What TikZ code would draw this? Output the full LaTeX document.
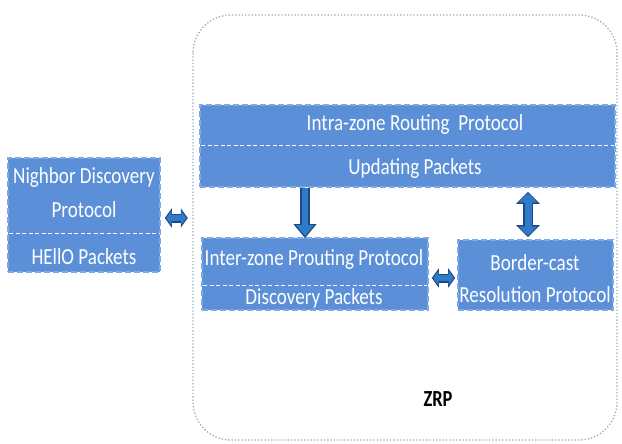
\documentclass[tikz,border=0pt]{standalone}
\usepackage{fontspec}
\setmainfont{Carlito}
\usepackage{graphicx}
\usetikzlibrary{arrows.meta,calc}
\definecolor{boxblue}{HTML}{5B8FD7}
\definecolor{boxedge}{HTML}{7FA9E2}
\definecolor{arrblue}{HTML}{2F7BC8}
\definecolor{arredge}{HTML}{1D4A86}
\definecolor{zonegray}{HTML}{8FAFC0}
\newcommand{\cond}[1]{\scalebox{0.83}[1]{#1}}
\tikzset{
  pbox/.style={rectangle, fill=boxblue, draw=boxedge, dashed, dash pattern=on 6pt off 3pt, line width=1.6pt, inner sep=0pt},
  sepline/.style={draw=white, dashed, dash pattern=on 4pt off 2.5pt, line width=0.9pt},
  ptext/.style={text=white, font=\fontsize{23}{26}\selectfont, inner sep=0pt},
  arrback/.style={draw=arredge, line width=9.5pt},
  arrfront/.style={draw=arrblue, line width=6.5pt},
}
\begin{document}
\begin{tikzpicture}[x=1pt,y=-1pt]
\useasboundingbox (0,0) rectangle (622,444);
% outer zone
\draw[zonegray, dotted, line width=1.3pt, rounded corners=38pt] (193,15) rectangle (617,440);
\node[font=\bfseries\fontsize{23}{26}\selectfont, inner sep=0pt] (zrp) at (438,399) {\scalebox{0.8}[1]{ZRP}};
% boxes
\node[pbox, minimum width=152pt, minimum height=114pt] (nd) at (84,215) {};
\node[pbox, minimum width=415pt, minimum height=82pt] (intra) at (407.5,146) {};
\node[pbox, minimum width=226pt, minimum height=72pt] (inter) at (315,274) {};
\node[pbox, minimum width=155pt, minimum height=70pt] (bc) at (535.5,275) {};
% separators
\draw[sepline] ($(nd.west)+(2,18)$) -- ($(nd.east)+(-2,18)$);
\draw[sepline] ($(intra.west)+(2,-1)$) -- ($(intra.east)+(-2,-1)$);
\draw[sepline] ($(inter.west)+(2,11)$) -- ($(inter.east)+(-2,11)$);
% texts
\node[ptext] (t1) at (84,177) {\cond{Nighbor Discovery}};
\node[ptext] (t2) at (84,210) {\cond{Protocol}};
\node[ptext] (t3) at (84,257) {\cond{HEllO Packets}};
\node[ptext] (t4) at (415,124) {\cond{Intra-zone Routing\ \ Protocol}};
\node[ptext] (t5) at (415,168) {\cond{Updating Packets}};
\node[ptext] (t6) at (314,259) {\cond{Inter-zone Prouting Protocol}};
\node[ptext] (t7) at (314,298) {\cond{Discovery Packets}};
\node[ptext] (t8) at (535,263) {\cond{Border-cast}};
\node[ptext] (t9) at (535,295) {\cond{Resolution Protocol}};
% arrow x positions
\coordinate (ax1) at (305,0);
\coordinate (ax2) at (528,0);
\coordinate (ay1) at (0,218);
\coordinate (ay2) at (0,278);
% down arrow intra -> inter
\draw[arrback, -{Triangle[width=22pt,length=14pt]}] ($(intra.south -| ax1)+(0,0)$) -- ($(inter.north -| ax1)+(0,1)$);
\draw[arrfront, -{Triangle[width=17pt,length=11pt]}, shorten >=2pt] ($(intra.south -| ax1)+(0,0)$) -- ($(inter.north -| ax1)+(0,1)$);
% vertical double arrow intra <-> bc
\draw[arrback, line width=10.5pt, {Triangle[width=23pt,length=12pt]}-{Triangle[width=23pt,length=12pt]}] ($(intra.south -| ax2)+(0,4)$) -- ($(bc.north -| ax2)+(0,-2)$);
\draw[arrfront, line width=7pt, {Triangle[width=18pt,length=9pt]}-{Triangle[width=18pt,length=9pt]}, shorten >=1.5pt, shorten <=1.5pt] ($(intra.south -| ax2)+(0,4)$) -- ($(bc.north -| ax2)+(0,-2)$);
% horizontal double arrow nd <-> zone
\draw[arrback, line width=9pt, {Triangle[width=19pt,length=7pt]}-{Triangle[width=19pt,length=7pt]}] ($(nd.east |- ay1)+(4,0)$) -- ($(nd.east |- ay1)+(27,0)$);
\draw[arrfront, line width=6pt, {Triangle[width=14pt,length=5pt]}-{Triangle[width=14pt,length=5pt]}, shorten >=1.5pt, shorten <=1.5pt] ($(nd.east |- ay1)+(4,0)$) -- ($(nd.east |- ay1)+(27,0)$);
% horizontal double arrow inter <-> bc
\draw[arrback, line width=9pt, {Triangle[width=19pt,length=7pt]}-{Triangle[width=19pt,length=7pt]}] ($(inter.east |- ay2)+(3,0)$) -- ($(bc.west |- ay2)+(-2,0)$);
\draw[arrfront, line width=6pt, {Triangle[width=14pt,length=5pt]}-{Triangle[width=14pt,length=5pt]}, shorten >=1.5pt, shorten <=1.5pt] ($(inter.east |- ay2)+(3,0)$) -- ($(bc.west |- ay2)+(-2,0)$);
\end{tikzpicture}
\end{document}
